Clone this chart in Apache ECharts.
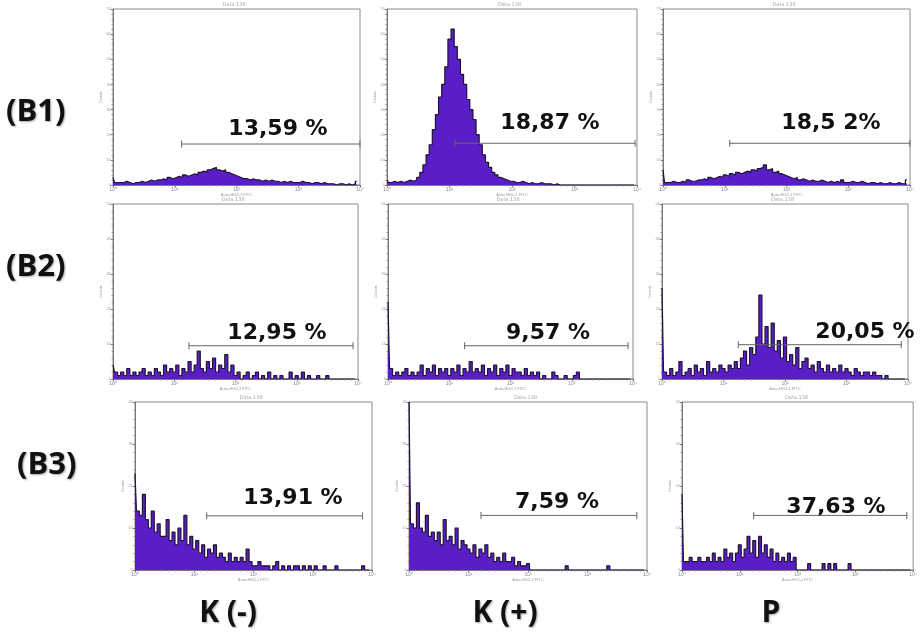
<!DOCTYPE html>
<html>
<head>
<meta charset="utf-8">
<script src="https://cdn.jsdelivr.net/npm/echarts@6/dist/echarts.min.js"></script>
<style>
  html, body { margin: 0; padding: 0; background: #fff; }
  #flow { width: 920px; height: 641px; }
</style>
</head>
<body>
<div id="flow"></div>
<script>
// histogram counts, 80 channels over 4 log decades (10^0 .. 10^4)
var binWidth = 0.05;
var decadeLabels = ['10⁰', '10¹', '10²', '10³', '10⁴'];

var b1Kneg = [3,1,1,1,1.5,1,0.5,1,1,1.5, 1,1.5,2,1.5,2,2,2.5,2,3,2.5, 3,3.5,3,4,3.5,4,4.5,4,5,5.5, 5,6,6.5,7,6,5.5,6,5,4.5,4, 3.5,3,2.5,2.5,2,2.5,2,2,1.5,2, 1.5,2,1.5,1.5,1,1.5,1,1.5,1,1, 1,1.5,1,1,0.5,1,1,0.5,1,0.5, 0.5,0.5,0,0.5,0.5,0,0.5,0,0.5,1.5];
var b1Kpos = [2,1,1.5,1,1.5,1,1.5,2,1.5,2, 3,5,8,12,16,22,28,35,40,47, 58,62,55,50,44,40,34,30,26,20, 16,12,9,7,5,4,3,2.5,2,1.5, 1.5,1,1,1.5,1,0.5,1,0.5,0.5,1, 0.5,0.5,0.5,0,0.5,0,0,0,0,0, 0,0,0,0,0,0,0,0,0,0, 0,0,0,0,0,0,0,0,0,0];
var b1P = [6,1,1,1.5,1,1,1.5,1,2,1.5, 1.5,2,2,2.5,2,3,2.5,3,3.5,3, 4,3.5,4.5,4,5,4.5,5,5.5,5,6, 5.5,6.5,7,8,6,6.5,5,5.5,4.5,4, 3.5,3,2.5,3,2,2.5,2,1.5,2,1.5, 1.5,2,1.5,1,1.5,1,1.5,1,2,1, 1,1.5,1,1,1.5,1,0.5,1,1,0.5, 1,0.5,0.5,1,0.5,0.5,1,0.5,0.5,2];

var b2Kneg = [4,2,1,2,1,3,1,2,1,2, 3,1,2,1,3,2,1,4,2,3, 2,4,1,3,2,5,2,4,8,3, 2,5,3,6,2,4,3,7,2,4, 1,2,0,1,2,0,1,2,0,1, 0,2,0,1,0,1,0,0,2,0, 1,0,2,0,1,0,0,1,0,0, 1,0,0,0,0,0,0,0,0,0];
var b2Kpos = [22,3,1,2,1,2,3,1,2,1, 2,4,1,3,2,4,1,3,2,3, 1,3,2,4,1,3,2,5,2,3, 2,4,1,3,2,4,1,3,2,4, 1,3,2,2,1,3,1,2,1,2, 0,1,0,0,2,1,0,0,1,0, 0,1,2,0,0,0,0,0,0,0, 0,0,0,0,0,0,0,0,0,0];
var b2P = [26,2,1,3,1,2,5,1,2,3, 1,4,2,3,1,5,2,3,2,4, 3,2,4,3,5,3,6,8,4,9, 7,12,24,10,15,9,16,8,11,6, 12,5,7,4,9,3,5,6,3,4, 2,5,3,2,4,2,3,2,4,2, 3,2,1,3,2,1,2,2,1,2, 1,1,0,1,0,0,0,0,0,0];

var b3Kneg = [23,14,13,18,12,10,14,9,11,8, 8,12,7,9,6,10,7,13,6,8, 5,7,4,6,3,5,4,6,3,4, 3,2,4,2,3,2,3,2,5,2, 1,1,2,1,1,1,0,1,2,0, 1,0,1,0,1,1,0,1,0,1, 0,1,0,0,1,0,0,0,1,0, 0,0,0,0,0,0,0,1,0,0];
var b3Kpos = [40,11,10,16,10,9,13,8,9,7, 9,6,12,7,8,6,10,5,7,6, 5,4,6,3,5,4,6,3,4,2, 3,2,4,2,2,3,1,2,1,1, 1.5,0,0,0,0,0,0,0,0,0, 0,0,0,1,0,0,0,0,0,0, 0,0,0,0,0,0,0,1,0,0, 0,0,0,0,0,0,0,0,0,0];
var b3P = [18,2,2,3,2,2,3,2,2,3, 2,4,2,3,2,5,3,4,2,4, 6,3,5,8,4,7,3,8,4,6, 3,5,2,4,2,3,2,4,2,3, 0,0,0,0,1.5,0,0,0,0,1.5, 0,1.5,0,1.5,0,0,0,0,1.5,0, 0,0,0,0,0,0,0,0,0,0, 0,0,0,0,0,0,0,0,0,0];

var panelCounts = [b1Kneg, b1Kpos, b1P, b2Kneg, b2Kpos, b2P, b3Kneg, b3Kpos, b3P];
var panelMax = [70, 70, 70, 50, 50, 50, 40, 40, 40];
var gateStart = [1.11, 1.09, 1.08, 1.24, 1.25, 1.24, 1.21, 1.21, 1.24];
var gateEnd   = [4.0, 3.97, 4.0, 3.92, 3.92, 3.89, 3.84, 3.83, 3.89];
var gateLevel = [16.3, 16.6, 16.6, 9.5, 9.5, 9.8, 12.9, 13, 13];
var percentLabels = ['13,59 %', '18,87 %', '18,5 2%', '12,95 %', '9,57 %', '20,05 %', '13,91 %', '7,59 %', '37,63 %'];
var rowLabels = ['(B1)', '(B2)', '(B3)'];
var colLabels = ['K (-)', 'K (+)', 'P'];

function draw_flow() {
  var dom = document.getElementById('flow');
  var myChart = echarts.init(dom, null, { renderer: 'canvas' });

  // panel boxes: left, top, width, height
  var boxes = [
    [113, 9, 247, 176], [387, 9, 250, 176], [663, 9, 247, 176],
    [113, 204, 245, 175], [388, 204, 245, 175], [662, 204, 246, 175],
    [135, 402, 237, 168], [409, 402, 238, 168], [682, 402, 234, 168]
  ];
  // where the big percentage text sits (centre x, centre y)
  var textPos = [
    [278, 129], [550, 123], [831, 123],
    [277, 333], [548, 333], [865, 332],
    [293, 498], [557, 502], [836, 507]
  ];

  var grid = [], xAxis = [], yAxis = [], series = [], graphic = [];

  panelCounts.forEach(function (counts, i) {
    var b = boxes[i];
    grid.push({ left: b[0], top: b[1], width: b[2], height: b[3],
      show: true, borderColor: '#8a8a8a', borderWidth: 1, backgroundColor: '#fff' });
    xAxis.push({
      type: 'value', gridIndex: i, min: 0, max: 4, interval: 1,
      name: 'Auto-HG2-1 FITC', nameLocation: 'middle', nameGap: 8,
      nameTextStyle: { fontSize: 4, color: '#999' },
      axisLine: { show: true, lineStyle: { color: '#777', width: 1 } },
      axisTick: { show: true, length: 2, lineStyle: { color: '#777' } },
      minorTick: { show: true, length: 1.5, splitNumber: 9, lineStyle: { color: '#999' } },
      splitLine: { show: false },
      axisLabel: { fontSize: 5, color: '#888', margin: 2,
        formatter: function (v) { return decadeLabels[Math.round(v)]; } }
    });
    yAxis.push({
      type: 'value', gridIndex: i, min: 0, max: panelMax[i], interval: 10,
      name: 'Counts', nameLocation: 'middle', nameGap: 10, nameRotate: 90,
      nameTextStyle: { fontSize: 4, color: '#999' },
      axisLine: { show: true, lineStyle: { color: '#777', width: 1 } },
      axisTick: { show: true, length: 2, lineStyle: { color: '#777' } },
      minorTick: { show: true, length: 1.5, splitNumber: 5, lineStyle: { color: '#999' } },
      splitLine: { show: false },
      axisLabel: { fontSize: 4, color: '#999', margin: 2 }
    });
    series.push({
      type: 'line', xAxisIndex: i, yAxisIndex: i, step: 'middle',
      symbol: 'none', silent: true,
      data: counts.map(function (v, k) { return [k * binWidth, v]; }),
      lineStyle: { color: '#1e1430', width: 1.2 },
      areaStyle: { color: '#5a1ec8', opacity: 1 }
    });
    // gate marker
    series.push({
      type: 'line', xAxisIndex: i, yAxisIndex: i, silent: true,
      data: [[gateStart[i], gateLevel[i]], [gateEnd[i], gateLevel[i]]],
      symbol: 'rect', symbolSize: [1, 7], showSymbol: true,
      itemStyle: { color: '#666' },
      lineStyle: { color: '#666', width: 1 }
    });
    graphic.push({
      type: 'text', left: b[0] + b[2] / 2 - 14, top: b[1] - 7,
      style: { text: 'Data.138', font: '5px "DejaVu Sans"', fill: '#aaa' }
    });
    graphic.push({
      type: 'text', x: textPos[i][0], y: textPos[i][1],
      style: { text: percentLabels[i], font: 'bold 22px "DejaVu Sans"', fill: '#111',
        textAlign: 'center', textVerticalAlign: 'middle' }
    });
  });

  var rowPos = [[6, 112], [6, 267], [17, 465]];
  rowLabels.forEach(function (t, r) {
    graphic.push({
      type: 'text', x: rowPos[r][0], y: rowPos[r][1],
      style: { text: t, font: 'bold 31px "Open Sans"', fill: '#111',
        textVerticalAlign: 'middle', textShadowColor: 'rgba(0,0,0,0.35)', textShadowBlur: 2, textShadowOffsetX: 1, textShadowOffsetY: 1 }
    });
  });
  var colPos = [228, 505, 771];
  colLabels.forEach(function (t, c) {
    graphic.push({
      type: 'text', x: colPos[c], y: 613,
      style: { text: t, font: 'bold 30px "Open Sans"', fill: '#111',
        textAlign: 'center', textVerticalAlign: 'middle', textShadowColor: 'rgba(0,0,0,0.35)', textShadowBlur: 2, textShadowOffsetX: 1, textShadowOffsetY: 1 }
    });
  });

  var option = {
    backgroundColor: '#fff',
    animation: false,
    grid: grid,
    xAxis: xAxis,
    yAxis: yAxis,
    series: series,
    graphic: graphic
  };

  if (option && typeof option === 'object') {
    myChart.setOption(option);
  }
  window.addEventListener('resize', myChart.resize);
}

draw_flow();
</script>
</body>
</html>
